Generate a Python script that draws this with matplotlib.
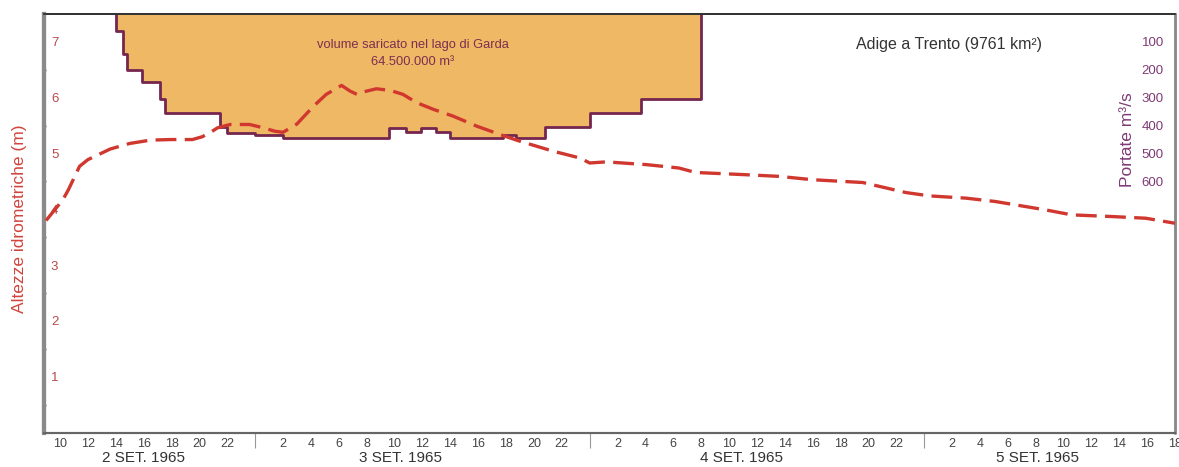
import matplotlib
matplotlib.use("Agg")
import matplotlib.pyplot as plt
from matplotlib.ticker import FixedLocator, NullFormatter

plt.rcParams['font.family'] = ['Liberation Sans', 'DejaVu Sans']
plt.rcParams['lines.scale_dashes'] = False

# Hours counted from 0:00 of 2 Sept 1965
level_hours = [9.0, 10.2, 10.6, 11.4, 12.0, 13.6, 15.0, 16.5, 18.0, 19.5, 20.2, 20.8,
               21.3, 22.2, 23.6, 24.6, 25.4, 26.0, 27.0, 28.2, 29.1, 30.2, 30.8, 31.3,
               31.7, 32.7, 33.7, 34.6, 35.6, 36.8, 38.2, 39.9, 41.8, 43.0, 45.4, 47.3,
               48.0, 49.2, 52.1, 54.4, 55.6, 59.2, 61.6, 64.0, 67.6, 68.8, 70.7, 72.4,
               75.0, 77.1, 80.7, 82.6, 85.5, 87.9, 90.0]
level_m = [3.80, 4.17, 4.35, 4.77, 4.89, 5.08, 5.18, 5.24, 5.25, 5.25, 5.30, 5.38,
           5.46, 5.52, 5.52, 5.46, 5.40, 5.38, 5.53, 5.85, 6.06, 6.22, 6.12, 6.06,
           6.10, 6.16, 6.13, 6.06, 5.91, 5.79, 5.67, 5.49, 5.32, 5.22, 5.04, 4.92,
           4.83, 4.85, 4.80, 4.74, 4.66, 4.62, 4.59, 4.53, 4.48, 4.41, 4.30, 4.24,
           4.20, 4.14, 3.99, 3.90, 3.87, 3.84, 3.75]

# Step boundary of the volume diverted to Lake Garda (discharge, m3/s)
step_hours = [14.0, 14.0, 14.5, 14.8, 15.9, 17.2, 17.5, 21.5, 22.0, 24.0, 26.0, 33.6,
              34.8, 35.9, 37.0, 38.0, 41.8, 42.7, 44.8, 48.0, 51.7, 56.0]
step_q = [0, 60, 145, 200, 245, 305, 355, 405, 425, 435, 445, 410,
          422, 410, 422, 445, 435, 445, 405, 355, 305, 0]

hour_ticks = [10, 12, 14, 16, 18, 20, 22,
              26, 28, 30, 32, 34, 36, 38, 40, 42, 44, 46,
              50, 52, 54, 56, 58, 60, 62, 64, 66, 68, 70,
              74, 76, 78, 80, 82, 84, 86, 88, 90]
hour_labels = ['10', '12', '14', '16', '18', '20', '22',
               '2', '4', '6', '8', '10', '12', '14', '16', '18', '20', '22',
               '2', '4', '6', '8', '10', '12', '14', '16', '18', '20', '22',
               '2', '4', '6', '8', '10', '12', '14', '16', '18']
day_breaks = [24, 48, 72]
day_labels = ['2 SET. 1965', '3 SET. 1965', '4 SET. 1965', '5 SET. 1965']
day_label_hours = [16.0, 34.4, 58.9, 80.1]

level_ticks = [1, 2, 3, 4, 5, 6, 7]
q_ticks = [100, 200, 300, 400, 500, 600]

fill_color = '#EFB865'
edge_color = '#74264F'
line_color = '#D0382F'
left_color = '#B84A4A'
right_color = '#7E3A75'
tick_color = '#444444'

fig = plt.figure(figsize=(11.79, 4.67), dpi=100)
ax = fig.add_axes([44 / 1179, 1 - 432.5 / 467, (1175 - 44) / 1179, (432.5 - 14) / 467])
ax2 = ax.twinx()
ax.set_zorder(ax2.get_zorder() + 1)
ax.patch.set_visible(False)

ax.set_xlim(8.85, 90)
ax.set_ylim(0, 7.5)
ax2.set_ylim(1500, 0)

# diverted volume
ax2.fill_between(step_hours, step_q, 0, step='post', color=fill_color, lw=0, zorder=1)
ax2.step(step_hours, step_q, where='post', color=edge_color, lw=2.0, zorder=2)

# water level
ax.plot(level_hours, level_m, color=line_color, lw=2.4, dashes=(15, 6), zorder=3,
        dash_capstyle='butt')

# x axis
ax.xaxis.set_major_locator(FixedLocator(hour_ticks))
ax.set_xticklabels(hour_labels)
ax.xaxis.set_minor_locator(FixedLocator(day_breaks))
ax.xaxis.set_minor_formatter(NullFormatter())
ax.tick_params(axis='x', which='major', length=0, pad=4, labelsize=9, labelcolor=tick_color)
ax.tick_params(axis='x', which='minor', length=11, width=0.8, color='#999999', direction='out')
for h, lab in zip(day_label_hours, day_labels):
    ax.text(h, -0.061, lab, transform=ax.get_xaxis_transform(), ha='center', va='center',
            fontsize=11, color='#333333')

# left axis
ax.yaxis.set_major_locator(FixedLocator(level_ticks))
ax.yaxis.set_minor_locator(FixedLocator([0.5 + i for i in range(7)]))
ax.tick_params(axis='y', which='major', length=0, pad=-5, labelsize=9.5, labelcolor=left_color)
ax.tick_params(axis='y', which='minor', length=3, width=1, color='#555555', direction='inout')
for t in ax.get_yticklabels():
    t.set_ha('left')
fig.text(20 / 1179, 1 - 219 / 467, 'Altezze idrometriche (m)', rotation=90,
         ha='center', va='center', fontsize=12.5, color='#D0443C')

# right axis
ax2.yaxis.set_major_locator(FixedLocator(q_ticks))
ax2.tick_params(axis='y', length=0, pad=-8, labelsize=9.5, labelcolor=right_color)
for t in ax2.get_yticklabels():
    t.set_ha('right')
fig.text(1128 / 1179, 1 - 140 / 467, 'Portate m³/s', rotation=90,
         ha='center', va='center', fontsize=12.5, color=right_color)

# spines
for a in (ax, ax2):
    a.spines['top'].set_color('#333333')
    a.spines['top'].set_linewidth(1.3)
    a.spines['bottom'].set_color('#666666')
    a.spines['bottom'].set_linewidth(1.5)
    a.spines['left'].set_color('#8a8a8a')
    a.spines['left'].set_linewidth(3)
    a.spines['right'].set_color('#8a8a8a')
    a.spines['right'].set_linewidth(1.8)

# texts
fig.text(413 / 1179, 1 - 45 / 467, 'volume saricato nel lago di Garda', ha='center',
         va='center', fontsize=9.3, color='#7B3050', zorder=5)
fig.text(413 / 1179, 1 - 62 / 467, '64.500.000 m³', ha='center', va='center',
         fontsize=9.3, color='#7B3050', zorder=5)
fig.text(949 / 1179, 1 - 44 / 467, 'Adige a Trento (9761 km²)', ha='center', va='center',
         fontsize=11.5, color='#333333')

fig.savefig('out.png', dpi=100)
